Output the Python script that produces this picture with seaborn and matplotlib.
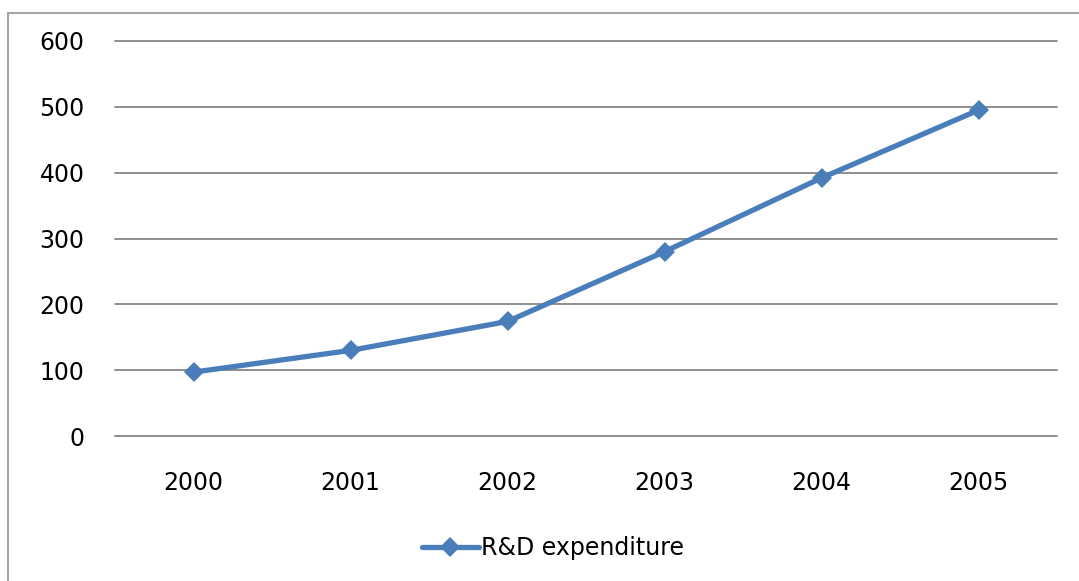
import matplotlib
matplotlib.use("Agg")
import matplotlib.pyplot as plt
from matplotlib.patches import Rectangle
import seaborn as sns
import pandas as pd

years = ["2000", "2001", "2002", "2003", "2004", "2005"]
rd_expenditure = [97, 130, 174, 280, 392, 495]
series_name = "R&D expenditure"
y_ticks = [0, 100, 200, 300, 400, 500, 600]

df = pd.DataFrame({"year": years, "value": rd_expenditure})

sns.set_theme(style="white")
plt.rcParams["font.family"] = ["DejaVu Sans"]
plt.rcParams["text.color"] = "black"

W, H = 1079, 581
fig = plt.figure(figsize=(W / 100, H / 100), dpi=100)
fig.patch.set_facecolor("white")

left, right, top, bottom = 115, 1057, 41, 436
ax = fig.add_axes([left / W, 1 - bottom / H, (right - left) / W, (bottom - top) / H])

line_color = "#4a7ebb"
sns.lineplot(data=df, x="year", y="value", ax=ax, color=line_color,
             linewidth=3.8, marker="D", markersize=10.5, markeredgewidth=0,
             label=series_name, sort=False, zorder=3)

ax.set_xlim(-0.5, len(years) - 0.5)
ax.set_ylim(0, 600)
ax.set_yticks(y_ticks)
ax.set_yticklabels([str(v) for v in y_ticks])
ax.set_xlabel("")
ax.set_ylabel("")

for yv in y_ticks:
    ax.axhline(yv, color="#868686", linewidth=1.3, zorder=0, clip_on=False)

for s in ax.spines.values():
    s.set_visible(False)
ax.tick_params(axis="both", length=0, labelsize=17, colors="black")
ax.tick_params(axis="y", pad=22)
ax.tick_params(axis="x", pad=25)
ax.set_facecolor("white")

ax.get_legend().remove()
handles, labels = ax.get_legend_handles_labels()
fig.legend(handles, labels, loc="center", bbox_to_anchor=(553 / W, 1 - 548 / H),
           frameon=False, fontsize=17, handlelength=2.4, handletextpad=0.1,
           borderaxespad=0, labelcolor="black")

# chart-area frame
fig.patches.append(Rectangle((8 / W, -0.05), 1.2, 1 - 13 / H + 0.05,
                             transform=fig.transFigure, fill=False,
                             edgecolor="#a6a6a6", linewidth=1.5))

fig.savefig("out.png", dpi=100, facecolor="white")
